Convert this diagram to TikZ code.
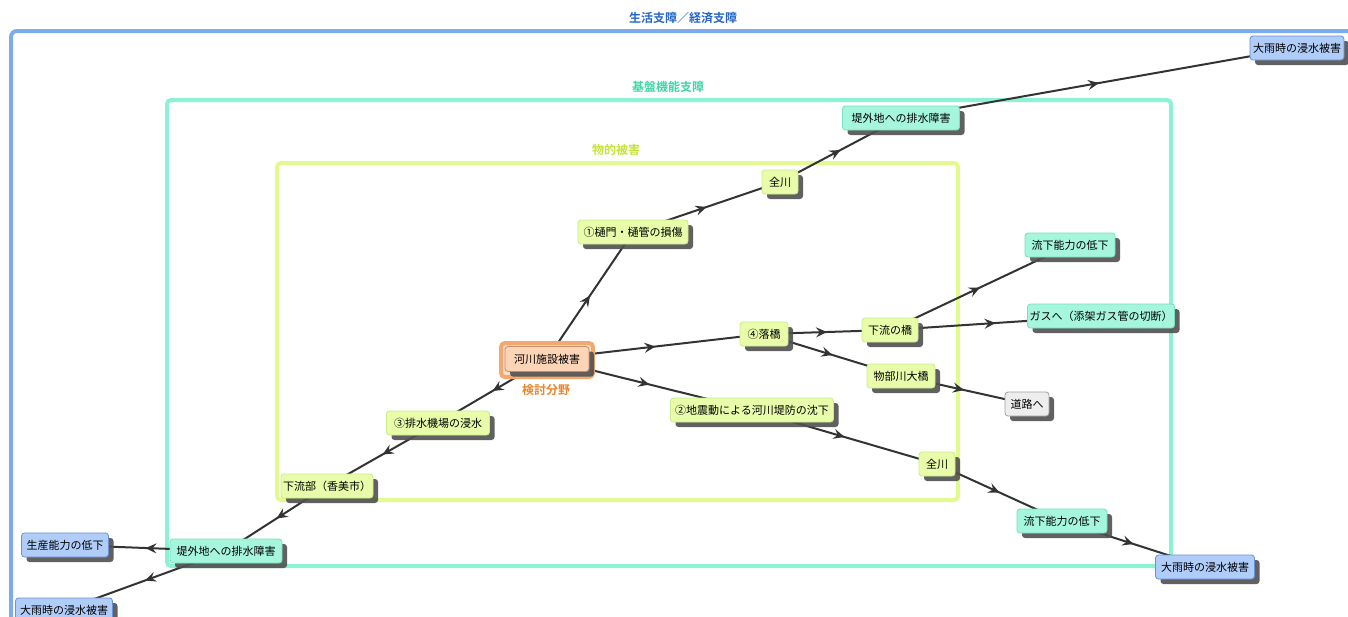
\documentclass[tikz,border=0pt]{standalone}
\usepackage{fontspec}
\setmainfont{Noto Sans CJK JP}[BoldFont={Noto Sans CJK JP Bold}]
\usetikzlibrary{arrows.meta,decorations.markings,shadows}

\pgfdeclarelayer{frames}
\pgfdeclarelayer{edges}
\pgfsetlayers{frames,edges,main}

\definecolor{lifeblue}{HTML}{80AAEE}
\definecolor{lifetitle}{HTML}{2466C8}
\definecolor{basefr}{HTML}{8CF2D4}
\definecolor{basetitle}{HTML}{3ED6A6}
\definecolor{physfr}{HTML}{E2FA8E}
\definecolor{phystitle}{HTML}{C4E43A}
\definecolor{edgegray}{HTML}{333333}
\definecolor{shadowgray}{HTML}{505050}
\definecolor{ygfill}{HTML}{E9FCAA}
\definecolor{ygdraw}{HTML}{CDEA8C}
\definecolor{tqfill}{HTML}{A6F6DE}
\definecolor{tqdraw}{HTML}{76E0C0}
\definecolor{blfill}{HTML}{B0CCF8}
\definecolor{bldraw}{HTML}{6A90D6}
\definecolor{grfill}{HTML}{EDEDED}
\definecolor{grdraw}{HTML}{A0A0A0}
\definecolor{pkfill}{HTML}{FCD4B6}
\definecolor{pkdraw}{HTML}{C48C6C}
\definecolor{orfr}{HTML}{F3A870}
\definecolor{orback}{HTML}{FBDCC4}
\definecolor{ortitle}{HTML}{E8862E}

\tikzset{
  box/.style={rounded corners=3pt, draw, line width=0.8pt, minimum height=24pt,
    inner xsep=2pt, inner ysep=2pt, font=\fontsize{11}{13}\selectfont,
    drop shadow={shadow xshift=5pt, shadow yshift=-5pt, fill=shadowgray, opacity=0.9}},
  yg/.style={box, fill=ygfill, draw=ygdraw},
  tq/.style={box, fill=tqfill, draw=tqdraw},
  bl/.style={box, fill=blfill, draw=bldraw},
  gr/.style={box, fill=grfill, draw=grdraw},
  pk/.style={box, fill=pkfill, draw=pkdraw},
  w/.style={minimum width=#1},
  frame/.style={line width=4pt, rounded corners=4pt},
  ftitle/.style={font=\bfseries\fontsize{12}{14}\selectfont},
  flow/.style={edgegray, line width=2pt, postaction={decorate},
    decoration={markings, mark=at position 0.5 with
      {\arrow{Stealth[length=11pt,width=10pt,inset=4pt]}}}}
}

\begin{document}
\begin{tikzpicture}[x=1pt,y=-1pt]
\useasboundingbox (0,0) rectangle (1348,616);
\clip (0,0) rectangle (1348,616);

% nested domain frames
\begin{pgfonlayer}{frames}
  \fill[white] (0,0) rectangle (1348,616);
  \draw[frame, lifeblue, rounded corners=6pt] (11,31) rectangle (1420,700);
  \draw[frame, basefr] (167,100) rectangle (1171,566);
  \draw[frame, physfr] (277,163) rectangle (958,500);
\end{pgfonlayer}

\node[ftitle, lifetitle] (tlife) at (683,18) {生活支障／経済支障};
\node[ftitle, basetitle] (tbase) at (668,87) {基盤機能支障};
\node[ftitle, phystitle] (tphys) at (616,150) {物的被害};

% core field
\node[draw=orfr, fill=orback, line width=4pt, rounded corners=4pt,
      minimum width=92pt, minimum height=34pt] (kframe) at (547,360) {};
\node[pk, w=84, minimum height=25pt] (kasen) at (547,359) {河川施設被害};
\node[ftitle, ortitle] (kento) at (546,390) {検討分野};

% physical damage
\node[yg, w=110] (hi) at (633,232) {①樋門・樋管の損傷};
\node[yg, w=36] (zen1) at (780,182) {全川};
\node[yg, w=48] (rakkyo) at (764,334) {④落橋};
\node[yg, w=56] (karyu) at (890,330) {下流の橋};
\node[yg, w=68] (monobe) at (901,376) {物部川大橋};
\node[yg, w=163] (jishin) at (752,410) {②地震動による河川堤防の沈下};
\node[yg, w=36] (zen2) at (937,464) {全川};
\node[yg, w=103] (haisui) at (438,423) {③排水機場の浸水};
\node[yg, w=91] (karyubu) at (327,486) {下流部（香美市）};

% infrastructure function
\node[tq, w=117] (teigai1) at (901,118) {堤外地への排水障害};
\node[tq, w=90] (ryuka1) at (1070,245) {流下能力の低下};
\node[tq, w=138] (gas) at (1101,316) {ガスへ（添架ガス管の切断）};
\node[tq, w=90] (ryuka2) at (1062,521) {流下能力の低下};
\node[tq, w=112] (teigai2) at (226,551) {堤外地への排水障害};

% life / economy
\node[bl, w=94] (ooame1) at (1297,48) {大雨時の浸水被害};
\node[bl, w=99] (ooame2) at (1205,567) {大雨時の浸水被害};
\node[bl, w=87] (seisan) at (65,545) {生産能力の低下};
\node[bl, w=97] (ooame3) at (64,610) {大雨時の浸水被害};
\node[gr, w=44] (doro) at (1027,404) {道路へ};

% chains of consequences
\begin{pgfonlayer}{edges}
  \draw[flow] (kasen.center) -- (hi.center);
  \draw[flow] (hi.center) -- (zen1.center);
  \draw[flow] (zen1.center) -- (teigai1.center);
  \draw[flow] (teigai1.center) -- (ooame1.center);
  \draw[flow] (kasen.center) -- (rakkyo.center);
  \draw[flow] (rakkyo.center) -- (karyu.center);
  \draw[flow] (rakkyo.center) -- (monobe.center);
  \draw[flow] (karyu.center) -- (ryuka1.center);
  \draw[flow] (karyu.center) -- (gas.center);
  \draw[flow] (monobe.center) -- (doro.center);
  \draw[flow] (kasen.center) -- (jishin.center);
  \draw[flow] (jishin.center) -- (zen2.center);
  \draw[flow] (zen2.center) -- (ryuka2.center);
  \draw[flow] (ryuka2.center) -- (ooame2.center);
  \draw[flow] (kasen.center) -- (haisui.center);
  \draw[flow] (haisui.center) -- (karyubu.center);
  \draw[flow] (karyubu.center) -- (teigai2.center);
  \draw[flow] (teigai2.center) -- (seisan.center);
  \draw[flow] (teigai2.center) -- (ooame3.center);
\end{pgfonlayer}
\end{tikzpicture}
\end{document}
